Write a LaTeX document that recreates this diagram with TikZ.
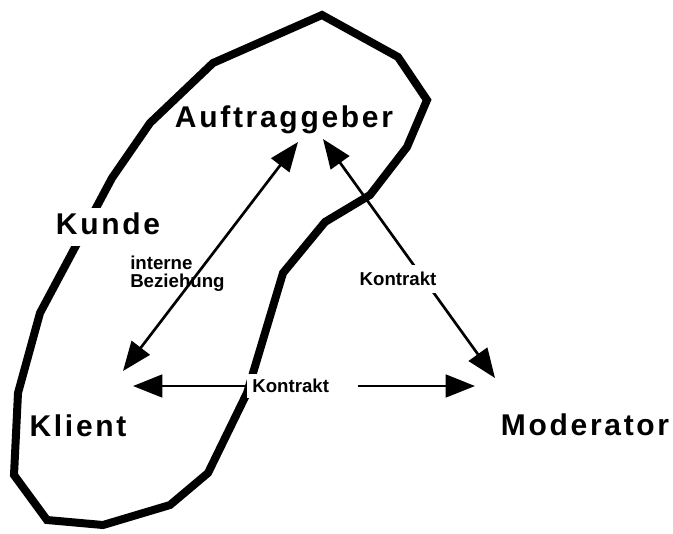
\documentclass[tikz,border=0pt]{standalone}
\usepackage{fontspec}
\setmainfont{Liberation Sans}
\newfontfamily\spacedfont{Liberation Sans}[LetterSpace=9]
\usetikzlibrary{arrows.meta}

\tikzset{
  bigname/.style={font=\spacedfont\bfseries\fontsize{22.5}{27}\selectfont, inner sep=0pt},
  smallname/.style={font=\bfseries\fontsize{14}{15}\selectfont},
  rel/.style={line width=2pt, {Triangle[length=22pt, width=17pt]}-{Triangle[length=22pt, width=17pt]}},
  onerel/.style={line width=2pt, -{Triangle[length=22pt, width=17pt]}}
}

\begin{document}
\begin{tikzpicture}[x=0.75pt, y=-0.75pt]
      \useasboundingbox (0,0) rectangle (673,533);

      \draw[line width=6pt, line join=miter] (322,15) -- (398,57) -- (427,100) -- (407,147) -- (370,195)
        -- (325,222) -- (283,273) -- (247,393) -- (208,473) -- (170,505) -- (103,525) -- (47,520)
        -- (14,475) -- (18,393) -- (40,313) -- (112,178) -- (150,123) -- (213,63) -- cycle;

      \node[bigname, anchor=base] (auftraggeber) at (284,127) {Auftraggeber};
      \node[bigname, anchor=base, fill=white, inner sep=3pt, text depth=6pt] (kunde) at (108,234) {Kunde};
      \node[bigname, anchor=base] (klient) at (78,436) {Klient};
      \node[bigname, anchor=base] (moderator) at (585,435) {Moderator};
      \node[smallname, anchor=base west, align=left, inner sep=0pt] (intern) at (130,287) {interne\\[-2pt]Beziehung};
      \node[smallname, fill=white, anchor=west, text width=75pt, align=left, inner xsep=3.75pt, inner ysep=4pt]
        (kontraktunten) at (247,386) {Kontrakt};

      \coordinate (auf-l) at (298,142);
      \coordinate (auf-r) at (323,139);
      \coordinate (kli-o) at (123,371);
      \coordinate (kli-r) at (133,386);
      \coordinate (mod-o) at (495,378);
      \coordinate (mod-l) at (475,386);

      \draw[rel] (auf-l) -- (kli-o);
      \draw[rel] (auf-r) -- (mod-o);
      \draw[onerel] (kontraktunten.west) -- (kli-r);
      \draw[onerel] (kontraktunten.east) -- (mod-l);

      \node[smallname, fill=white, inner xsep=3pt, inner ysep=5.5pt] (kontraktrechts) at (398,279) {Kontrakt};
    \end{tikzpicture}
\end{document}
